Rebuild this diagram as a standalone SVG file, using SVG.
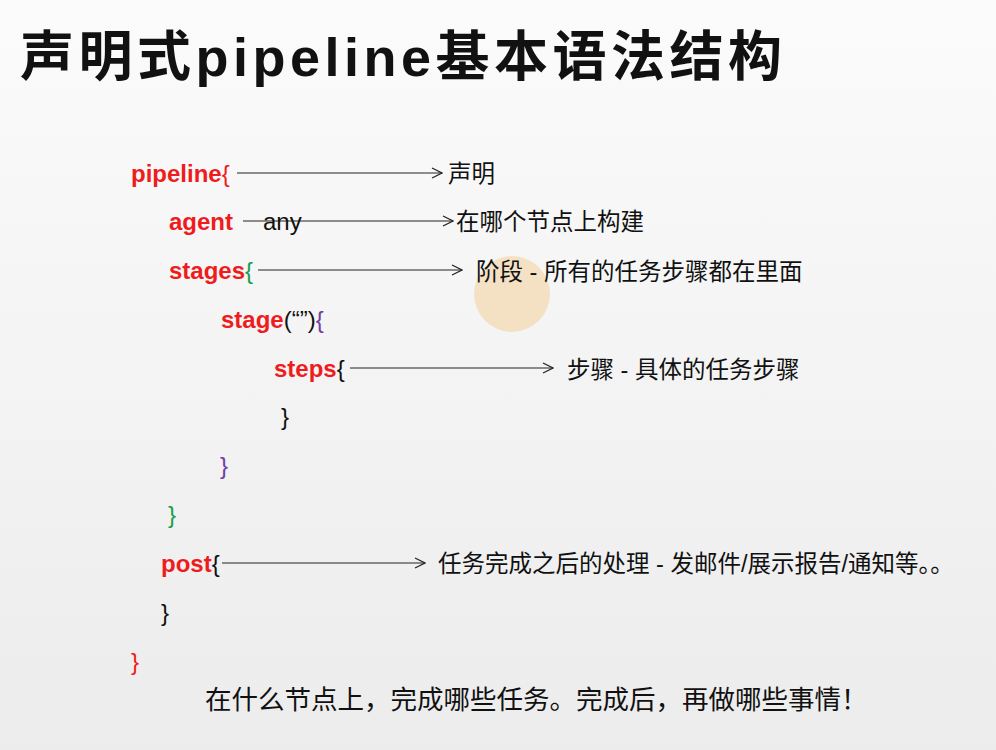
<svg xmlns="http://www.w3.org/2000/svg" width="996" height="750" viewBox="0 0 996 750">
<defs>
<linearGradient id="bg" x1="0" y1="0" x2="0" y2="1"><stop offset="0" stop-color="#fbfbfb"/><stop offset="1" stop-color="#ececec"/></linearGradient>
<marker id="ah" markerWidth="12" markerHeight="12" refX="11" refY="6" orient="auto" markerUnits="userSpaceOnUse"><path d="M1,1 L11,6 L1,11" fill="none" stroke="#222" stroke-width="1.2"/></marker>
</defs>
<style>
.k{font-family:"Liberation Sans",Arial,sans-serif;font-weight:bold;font-size:24px;fill:#ee1c1c}
.b{font-family:"Liberation Sans",Arial,sans-serif;font-size:24px}
.z{font-family:"Liberation Sans","Noto Sans CJK SC",sans-serif;font-size:23.5px;fill:#111}
.c{stroke:#222;stroke-width:1.2;fill:none;marker-end:url(#ah)}
</style>
<rect width="996" height="750" fill="url(#bg)"/>
<text x="20" y="76" font-family="'Liberation Sans','Noto Sans CJK SC',sans-serif" font-weight="bold" font-size="54" letter-spacing="4.5" fill="#111">声明式pipeline基本语法结构</text>
<circle cx="512" cy="294" r="38" fill="#f5c98a" opacity="0.45"/>
<g id="connectors">
<line class="c" x1="237" y1="173" x2="442" y2="173"/>
<line class="c" x1="243" y1="221" x2="453" y2="221"/>
<line class="c" x1="258" y1="270" x2="462" y2="270"/>
<line class="c" x1="350" y1="368" x2="553" y2="368"/>
<line class="c" x1="222" y1="563" x2="425" y2="563"/>
</g>
<g id="pipeline"><text class="k" x="131" y="182">pipeline<tspan font-weight="normal">{</tspan></text><text class="z" x="448" y="182">声明</text></g>
<g id="agent"><text class="k" x="169" y="230">agent</text><text class="b" x="263" y="230" style="fill:#111">any</text><text class="z" x="456" y="230">在哪个节点上构建</text></g>
<g id="stages"><text class="k" x="169" y="279">stages<tspan style="fill:#1a9e4a" font-weight="normal">{</tspan></text><text class="z" x="476" y="280">阶段 - 所有的任务步骤都在里面</text></g>
<g id="stage"><text class="k" x="221" y="328">stage<tspan style="fill:#111" font-weight="normal">(“”)</tspan><tspan style="fill:#7040a0" font-weight="normal">{</tspan></text></g>
<g id="steps"><text class="k" x="274" y="377">steps<tspan style="fill:#111" font-weight="normal">{</tspan></text><text class="z" x="567" y="378">步骤 - 具体的任务步骤</text></g>
<text class="b" x="281" y="425" style="fill:#111">}</text>
<text class="b" x="220" y="474" style="fill:#7040a0">}</text>
<text class="b" x="168" y="523" style="fill:#1a9e4a">}</text>
<g id="post"><text class="k" x="161" y="572">post<tspan style="fill:#111" font-weight="normal">{</tspan></text><text class="z" x="438" y="572">任务完成之后的处理 - 发邮件/展示报告/通知等。。</text></g>
<text class="b" x="161" y="621" style="fill:#111">}</text>
<text class="b" x="131" y="670" style="fill:#ee1c1c">}</text>
<text class="z" x="205" y="709" style="font-size:26.5px">在什么节点上，完成哪些任务。完成后，再做哪些事情！</text>
</svg>
